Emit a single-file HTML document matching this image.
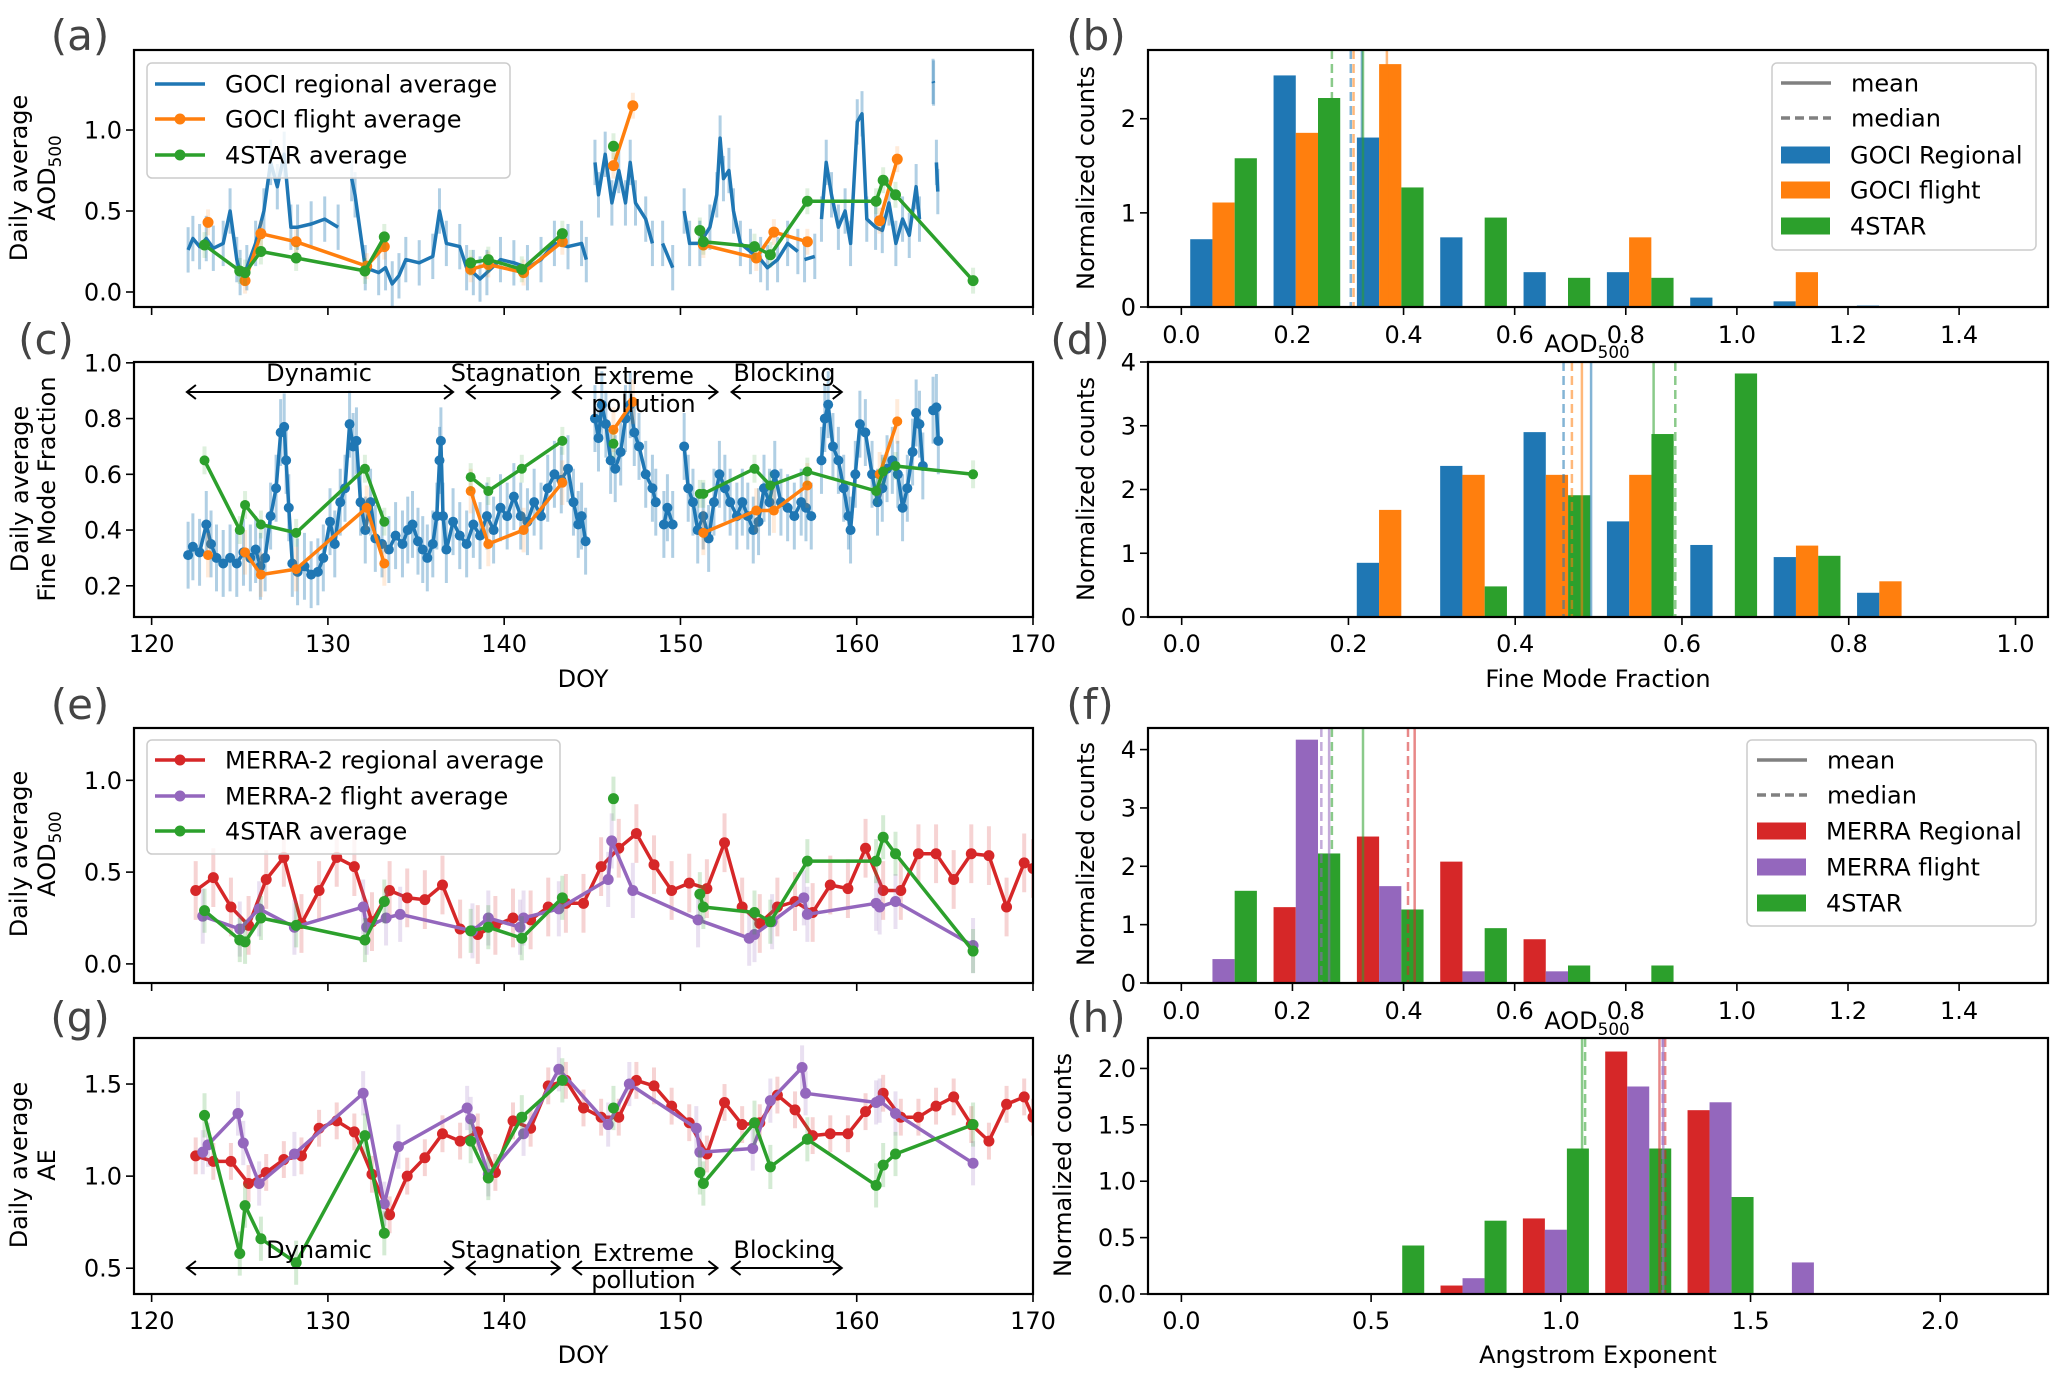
<!DOCTYPE html>
<html><head><meta charset="utf-8"><style>
html,body{margin:0;padding:0;background:#fff;}
svg{display:block;font-family:"DejaVu Sans","Liberation Sans",sans-serif;}
</style></head><body>
<svg id="fig" width="2067" height="1386" viewBox="0 0 2067 1386" xmlns="http://www.w3.org/2000/svg"></svg>
<script>
// ---------- DATA ----------
const regAodDoy = [122.07,122.34,122.72,123.1,123.5,124.06,124.45,124.83,125.02,125.4,125.9,126.37,126.75,127.13,127.52,127.9,128.28,129.05,129.82,130.58,130.9,131.35,131.54,132.12,132.88,133.27,133.65,134.03,134.42,135.18,135.95,136.33,136.72,137.48,137.87,138.25,138.63,139.02,139.79,140.55,141.32,142.09,142.85,143.62,144.39,144.66,144.9,145.15,145.35,145.73,146.11,146.5,146.88,147.15,147.45,148.03,148.41,148.7,148.99,149.56,149.9,150.21,150.52,151.1,151.67,152.06,152.25,152.44,152.75,153.01,153.4,153.97,154.55,154.93,155.51,156.08,156.66,156.85,157.04,157.62,157.8,158.0,158.27,158.57,158.96,159.34,159.65,160.03,160.3,160.57,161.07,161.45,161.83,162.22,162.6,162.98,163.37,163.56,163.9,164.33,164.36,164.43,164.52,164.6];
const regAodVal = [0.26,0.33,0.28,0.33,0.27,0.3,0.5,0.2,0.12,0.15,0.3,0.5,0.8,0.65,0.85,0.4,0.4,0.42,0.45,0.4,null,0.7,0.6,0.15,0.12,0.15,0.05,0.1,0.2,0.18,0.22,0.5,0.3,0.28,0.15,0.12,0.08,0.12,0.2,0.18,0.15,0.2,0.3,0.28,0.3,0.2,null,0.8,0.6,0.85,0.55,0.75,0.55,0.8,0.55,0.45,0.3,null,0.3,0.15,null,0.5,0.3,0.3,0.4,0.6,0.95,0.7,0.75,0.5,0.3,0.25,0.2,0.15,0.2,0.3,0.25,null,0.2,0.22,null,0.45,0.8,0.6,0.4,0.5,0.3,1.05,1.1,0.45,0.4,0.38,0.55,0.3,0.45,0.35,0.65,0.45,null,1.3,1.29,null,0.8,0.62];
const regAodErr = 0.14;

const fltDoy = [123.2,123.3,125.3,126.2,128.2,132.2,133.2,135,138.1,139.1,141.1,143.3,145,146.2,147.3,149,151.3,154.3,155.3,157.2,159,161.3,162.3];
const fltAodVal = [0.43,null,0.07,0.36,0.31,0.16,0.28,null,0.14,0.17,0.12,0.31,null,0.78,1.15,null,0.29,0.21,0.37,0.31,null,0.44,0.82];
const fltFmfVal = [0.31,null,0.32,0.24,0.26,0.48,0.28,null,0.54,0.35,0.40,0.57,null,0.76,0.86,null,0.39,0.47,0.47,0.56,null,0.60,0.79];

const starDoy = [123.0,125.0,125.3,126.2,128.2,132.1,133.2,135,138.1,139.1,141.0,143.3,145,146.2,148,151.1,151.3,154.2,155.1,157.2,161.1,161.5,162.2,166.6];
const starAodVal = [0.29,0.13,0.12,0.25,0.21,0.13,0.34,null,0.18,0.2,0.14,0.36,null,0.9,null,0.38,0.31,0.28,0.23,0.56,0.56,0.69,0.6,0.07];
const starFmfVal = [0.65,0.40,0.49,0.42,0.39,0.62,0.43,null,0.59,0.54,0.62,0.72,null,0.71,null,0.53,0.53,0.62,0.56,0.61,0.54,0.61,0.63,0.60];
const starAeVal = [1.33,0.58,0.84,0.66,0.53,1.22,0.69,null,1.19,0.99,1.32,1.52,null,1.37,null,1.02,0.96,1.29,1.05,1.2,0.95,1.06,1.12,1.28];

const regFmfDoy = [122.07,122.34,122.72,123.1,123.37,123.68,124.06,124.45,124.83,125.21,125.6,125.9,126.17,126.44,126.75,127.06,127.32,127.52,127.63,127.78,127.98,128.28,128.67,129.05,129.43,129.74,130.12,130.39,130.7,130.97,131.23,131.43,131.62,131.85,132.12,132.42,132.69,133.07,133.46,133.84,134.23,134.53,134.8,135.11,135.38,135.64,135.95,136.18,136.33,136.41,136.53,136.72,137.1,137.48,137.87,138.25,138.63,139.02,139.4,139.79,140.17,140.55,140.94,141.32,141.7,142.09,142.47,142.85,143.24,143.62,143.93,144.2,144.39,144.62,144.9,145.15,145.35,145.54,145.77,146.04,146.3,146.61,146.88,147.15,147.38,147.65,148.03,148.41,148.6,148.8,149.06,149.26,149.56,149.9,150.21,150.44,150.71,150.98,151.29,151.6,151.9,152.21,152.52,152.82,153.2,153.51,153.82,154.13,154.43,154.74,155.05,155.35,155.7,156.08,156.46,156.85,157.12,157.42,157.7,158.0,158.19,158.38,158.65,158.96,159.26,159.53,159.65,159.92,160.18,160.49,160.87,161.18,161.45,161.72,162.02,162.33,162.6,162.87,163.17,163.37,163.56,163.75,164.0,164.33,164.52,164.63];
const regFmfVal = [0.31,0.34,0.32,0.42,0.35,0.3,0.28,0.3,0.28,0.32,0.3,0.33,0.27,0.3,0.45,0.55,0.75,0.77,0.65,0.48,0.28,0.25,0.27,0.24,0.25,0.3,0.43,0.35,0.5,0.55,0.78,0.7,0.72,0.5,0.4,0.5,0.37,0.35,0.33,0.38,0.35,0.4,0.42,0.36,0.33,0.3,0.35,0.45,0.65,0.72,0.45,0.33,0.43,0.38,0.35,0.42,0.38,0.45,0.4,0.48,0.45,0.52,0.45,0.43,0.5,0.45,0.55,0.6,0.58,0.62,0.5,0.42,0.45,0.36,null,0.8,0.73,0.85,0.78,0.65,0.62,0.68,0.8,0.85,0.75,0.7,0.6,0.55,0.5,null,0.42,0.48,0.42,null,0.7,0.55,0.5,0.4,0.45,0.37,0.5,0.6,0.55,0.5,0.45,0.5,0.45,0.4,0.43,0.55,0.5,0.6,0.5,0.48,0.45,0.5,0.48,0.45,null,0.65,0.8,0.85,0.7,0.65,0.55,0.45,0.4,0.6,0.78,0.75,0.6,0.5,0.55,0.62,0.65,0.6,0.48,0.55,0.68,0.82,0.78,0.63,null,0.83,0.84,0.72];
const regFmfErr = 0.12;

const merraDoy = [122.5,123.5,124.5,125.5,126.5,127.5,128.5,129.5,130.5,131.5,132.5,133.5,134.5,135.5,136.5,137.5,138.5,139.5,140.5,141.5,142.5,143.5,144.5,145.5,146.5,147.5,148.5,149.5,150.5,151.5,152.5,153.5,154.5,155.5,156.5,157.5,158.5,159.5,160.5,161.5,162.5,163.5,164.5,165.5,166.5,167.5,168.5,169.5,170.0];
const merraAodVal = [0.4,0.47,0.31,0.21,0.46,0.58,0.22,0.4,0.58,0.53,0.23,0.4,0.36,0.35,0.43,0.19,0.16,0.21,0.25,0.24,0.31,0.33,0.33,0.53,0.63,0.71,0.54,0.4,0.44,0.41,0.66,0.31,0.22,0.31,0.34,0.28,0.43,0.41,0.63,0.4,0.4,0.6,0.6,0.46,0.6,0.59,0.31,0.55,0.52];
const merraAeVal = [1.11,1.08,1.08,0.96,1.02,1.09,1.11,1.26,1.3,1.24,1.01,0.79,1.0,1.1,1.23,1.19,1.24,1.02,1.3,1.26,1.49,1.52,1.37,1.32,1.32,1.52,1.49,1.38,1.29,1.12,1.4,1.28,1.29,1.44,1.36,1.22,1.23,1.23,1.35,1.45,1.32,1.32,1.38,1.43,1.28,1.19,1.39,1.43,1.32];

const mfltAodDoy = [122.9,125.0,126.1,128.1,132.0,132.2,133.3,134.1,138.2,139.1,140.9,141.1,143.1,145.9,146.1,147.3,151.0,153.9,154.2,155.2,157.0,157.2,161.1,161.3,162.2,166.6];
const mfltAodVal = [0.26,0.19,0.3,0.2,0.31,0.2,0.25,0.27,0.18,0.25,0.2,0.25,0.3,0.46,0.67,0.4,0.24,0.14,0.16,0.23,0.36,0.27,0.33,0.31,0.34,0.1];
const mfltAeDoy = [122.9,123.2,124.9,125.2,126.1,128.1,132.0,133.2,134.0,137.9,138.1,139.1,141.1,143.1,145.9,147.1,150.9,151.1,154.1,155.1,156.9,157.1,161.1,161.3,162.2,166.6];
const mfltAeVal = [1.13,1.17,1.34,1.18,0.96,1.12,1.45,0.85,1.16,1.37,1.31,1.01,1.23,1.58,1.28,1.5,1.26,1.13,1.15,1.41,1.59,1.45,1.4,1.41,1.34,1.07];

// histograms
const hAodBins = [0.016,0.166,0.316,0.466,0.616,0.766,0.916,1.066,1.216];
const hAodBarW = 0.04;
const hbGociReg = [0.72,2.46,1.8,0.74,0.37,0.37,0.1,0.06,0.015];
const hbGociFlt = [1.11,1.85,2.58,0,0,0.74,0,0.37,0];
const hbStar = [1.58,2.22,1.27,0.95,0.31,0.31,0,0,0];
const hbLines = [{c:'#1f77b4',v:0.325,d:false},{c:'#1f77b4',v:0.305,d:true},{c:'#ff7f0e',v:0.37,d:false},{c:'#ff7f0e',v:0.31,d:true},{c:'#2ca02c',v:0.327,d:false},{c:'#2ca02c',v:0.271,d:true}];

const hFmfBins = [0.21,0.31,0.41,0.51,0.61,0.71,0.81];
const hFmfBarW = 0.0267;
const hdGociReg = [0.85,2.37,2.9,1.5,1.13,0.94,0.38];
const hdGociFlt = [1.68,2.23,2.23,2.23,0,1.12,0.56];
const hdStar = [0,0.48,1.91,2.87,3.82,0.96,0];
const hdLines = [{c:'#1f77b4',v:0.491,d:false},{c:'#1f77b4',v:0.458,d:true},{c:'#ff7f0e',v:0.48,d:false},{c:'#ff7f0e',v:0.468,d:true},{c:'#2ca02c',v:0.566,d:false},{c:'#2ca02c',v:0.592,d:true}];

const hfMerraReg = [0,1.3,2.51,2.08,0.75,0,0,0,0];
const hfMerraFlt = [0.41,4.17,1.66,0.2,0.2,0,0,0,0];
const hfStar = [1.58,2.22,1.26,0.94,0.3,0.3,0,0,0];
const hfLines = [{c:'#9467bd',v:0.266,d:false},{c:'#9467bd',v:0.252,d:true},{c:'#2ca02c',v:0.327,d:false},{c:'#2ca02c',v:0.271,d:true},{c:'#d62728',v:0.42,d:false},{c:'#d62728',v:0.408,d:true}];

const hAeBins = [0.466,0.683,0.9,1.117,1.334,1.551];
const hAeBarW = 0.058;
const hhMerraReg = [0,0.075,0.67,2.15,1.63,0];
const hhMerraFlt = [0,0.14,0.57,1.84,1.7,0.28];
const hhStar = [0.43,0.65,1.29,1.29,0.86,0];
const hhLines = [{c:'#2ca02c',v:1.056,d:false},{c:'#2ca02c',v:1.064,d:true},{c:'#d62728',v:1.26,d:false},{c:'#d62728',v:1.275,d:true},{c:'#9467bd',v:1.27,d:false},{c:'#9467bd',v:1.268,d:true}];

const doyTicks = [120,130,140,150,160,170];
const aodHistTicks = [0.0,0.2,0.4,0.6,0.8,1.0,1.2,1.4];
const fmfHistTicks = [0.0,0.2,0.4,0.6,0.8,1.0];
const aeHistTicks = [0.0,0.5,1.0,1.5,2.0];

// ---------- HELPERS ----------
const NS='http://www.w3.org/2000/svg';
const svg=document.getElementById('fig');
function mk(tag,attrs,parent){const e=document.createElementNS(NS,tag);for(const k in attrs)e.setAttribute(k,attrs[k]);(parent||svg).appendChild(e);return e;}
function axes(x0,x1,y0,y1,xmin,xmax,ymin,ymax){return {x0,x1,y0,y1,sx:v=>x0+(v-xmin)/(xmax-xmin)*(x1-x0),sy:v=>y1-(v-ymin)/(ymax-ymin)*(y1-y0)};}
const C={blue:'#1f77b4',orange:'#ff7f0e',green:'#2ca02c',red:'#d62728',purple:'#9467bd'};

function frame(a,name){
  const r=mk('rect',{x:a.x0,y:a.y0,width:a.x1-a.x0,height:a.y1-a.y0,fill:'none',stroke:'#000','stroke-width':2.2});
  
  
}
function xticks(a,ticks,labels,fmt,ly,name){
  const g=mk('g',{});
  
  
  ticks.forEach(t=>{const x=a.sx(t);mk('line',{x1:x,x2:x,y1:a.y1,y2:a.y1+8,stroke:'#000','stroke-width':1.6},g);
    if(labels){const tx=mk('text',{x:x,y:ly,'font-size':24,'text-anchor':'middle',fill:'#000'},g);tx.textContent=fmt(t);}});
}
function yticks(a,ticks,fmt,name){
  const g=mk('g',{});
  
  
  ticks.forEach(t=>{const y=a.sy(t);mk('line',{x1:a.x0-8,x2:a.x0,y1:y,y2:y,stroke:'#000','stroke-width':1.6},g);
    const tx=mk('text',{x:a.x0-12,y:y+8.5,'font-size':24,'text-anchor':'end',fill:'#000'},g);tx.textContent=fmt(t);});
}
function clip(a,id){const cp=mk('clipPath',{id:id});mk('rect',{x:a.x0,y:a.y0,width:a.x1-a.x0,height:a.y1-a.y0},cp);return 'url(#'+id+')';}
function series(a,xs,ys,color,opts,name,cp){
  const g=mk('g',{'clip-path':cp});
  
  
  if(opts.err){xs.forEach((x,i)=>{if(ys[i]==null)return;mk('line',{x1:a.sx(x),x2:a.sx(x),y1:a.sy(ys[i]-opts.err),y2:a.sy(ys[i]+opts.err),stroke:color,'stroke-width':opts.ew||4,opacity:opts.eo||0.3},g);});}
  let seg=[];const segs=[];
  xs.forEach((x,i)=>{if(ys[i]==null){if(seg.length)segs.push(seg);seg=[];}else seg.push(a.sx(x).toFixed(1)+','+a.sy(ys[i]).toFixed(1));});
  if(seg.length)segs.push(seg);
  segs.forEach(s=>mk('polyline',{points:s.join(' '),fill:'none',stroke:color,'stroke-width':opts.lw||3.5,'stroke-linejoin':'round'},g));
  if(opts.mr){xs.forEach((x,i)=>{if(ys[i]==null)return;mk('circle',{cx:a.sx(x),cy:a.sy(ys[i]),r:opts.mr,fill:color},g);});}
}
function bars(a,bins,off,w,vals,color,name,cp){
  const g=mk('g',{'clip-path':cp});
  
  
  bins.forEach((b,i)=>{if(!vals[i])return;const x0=a.sx(b+off),x1=a.sx(b+off+w);const y=a.sy(vals[i]);
    mk('rect',{x:x0,y:y,width:x1-x0,height:a.y1-y,fill:color},g);});
}
function vlines(a,lines,name){
  const g=mk('g',{});
  
  
  lines.forEach(l=>{const x=a.sx(l.v);const at={x1:x,x2:x,y1:a.y0,y2:a.y1,stroke:l.c,'stroke-width':2.5,opacity:0.55};if(l.d)at['stroke-dasharray']='9,5';mk('line',at,g);});
}
function text(x,y,str,size,anchor,name,extra){
  const t=mk('text',Object.assign({x:x,y:y,'font-size':size,'text-anchor':anchor||'start',fill:'#000'},extra||{}));
  t.textContent=str;
  
  
  return t;
}
function aodLabel(x,y,size,anchor,name,rot){
  const t=mk('text',{x:x,y:y,'font-size':size,'text-anchor':anchor,fill:'#000'});
  if(rot)t.setAttribute('transform','rotate(-90 '+x+' '+y+')');
  
  
  const a=mk('tspan',{},t);a.textContent='AOD';
  const b=mk('tspan',{'font-size':size*0.7,dy:6},t);b.textContent='500';
  return t;
}
function ylab2(x1,x2,cy,l1,l2,name){
  const t1=mk('text',{x:x1,y:cy,'font-size':24,'text-anchor':'middle',fill:'#000',transform:'rotate(-90 '+x1+' '+cy+')'});
  t1.textContent=l1;
  
  
  if(l2==='AOD')aodLabel(x2,cy,24,'middle',name+'-line2',true);
  else{const t2=mk('text',{x:x2,y:cy,'font-size':24,'text-anchor':'middle',fill:'#000',transform:'rotate(-90 '+x2+' '+cy+')'});t2.textContent=l2;
    
    }
}
function legendBox(x0,y0,x1,y1,name){
  const r=mk('rect',{x:x0,y:y0,width:x1-x0,height:y1-y0,rx:5,fill:'#fff','fill-opacity':0.8,stroke:'#ccc','stroke-width':1.5});
  
  
}
function legLine(x,y,color,marker,label,name,dash){
  const g=mk('g',{});
  
  
  const at={x1:x,x2:x+50,y1:y,y2:y,stroke:color,'stroke-width':3.5};if(dash)at['stroke-dasharray']='9,5';
  mk('line',at,g);
  if(marker)mk('circle',{cx:x+25,cy:y,r:5.5,fill:color},g);
  const t=mk('text',{x:x+70,y:y+8.5,'font-size':24,fill:'#000'},g);t.textContent=label;
}
function legPatch(x,y,color,label,name){
  const g=mk('g',{});
  
  
  mk('rect',{x:x,y:y-8.5,width:49,height:17,fill:color},g);
  const t=mk('text',{x:x+69,y:y+8.5,'font-size':24,fill:'#000'},g);t.textContent=label;
}
function arrow(a,d1,d2,y,name){
  const g=mk('g',{});
  
  
  const x1=a.sx(d1),x2=a.sx(d2);
  mk('line',{x1:x1,x2:x2,y1:y,y2:y,stroke:'#000','stroke-width':2},g);
  mk('polyline',{points:(x1+9)+','+(y-7)+' '+x1+','+y+' '+(x1+9)+','+(y+7),fill:'none',stroke:'#000','stroke-width':2},g);
  mk('polyline',{points:(x2-9)+','+(y-7)+' '+x2+','+y+' '+(x2-9)+','+(y+7),fill:'none',stroke:'#000','stroke-width':2},g);
}
function periods(a,ty,ay,py,prefix){
  text(a.sx(129.5),ty,'Dynamic',24,'middle',prefix+'-dynamic-label');
  arrow(a,122,137.1,ay,prefix+'-dynamic-arrow');
  text(a.sx(140.67),ty,'Stagnation',24,'middle',prefix+'-stagnation-label');
  arrow(a,137.87,143.16,ay,prefix+'-stagnation-arrow');
  text(a.sx(147.9),ty+3,'Extreme',24,'middle',prefix+'-extreme-label');
  text(a.sx(147.9),py,'pollution',24,'middle',prefix+'-pollution-label');
  arrow(a,143.9,152.1,ay,prefix+'-extreme-arrow');
  text(a.sx(155.9),ty,'Blocking',24,'middle',prefix+'-blocking-label');
  arrow(a,152.9,159.15,ay,prefix+'-blocking-arrow');
}
const f1=v=>v.toFixed(1);

// ---------- PANEL (a) ----------
const A=axes(134,1033,50,307,119,170,-0.0926,1.494);
const cpA=clip(A,'cpA');
series(A,regAodDoy,regAodVal,C.blue,{err:regAodErr,eo:0.35,ew:3,lw:3.5},'goci-regional-aod-line',cpA);
series(A,fltDoy,fltAodVal,C.orange,{err:0.08,eo:0.15,mr:5.5},'goci-flight-aod-line',cpA);
series(A,starDoy,starAodVal,C.green,{err:0.08,eo:0.15,mr:5.5},'star-aod-line-a',cpA);
frame(A,'panel-a');
xticks(A,doyTicks,false,null,0,'panel-a');
yticks(A,[0,0.5,1.0],f1,'panel-a');
ylab2(27,55,178,'Daily average','AOD','panel-a-y-title');
text(80,50,'(a)',42,'middle','panel-a-label',{fill:'#444'});
legendBox(147,63,510,178,'panel-a-legend');
legLine(155,84,C.blue,false,'GOCI regional average','legend-goci-regional');
legLine(155,119,C.orange,true,'GOCI flight average','legend-goci-flight');
legLine(155,155,C.green,true,'4STAR average','legend-4star');

// ---------- PANEL (c) ----------
const Cc=axes(134,1033,362,617,119,170,0.088,1.003);
const cpC=clip(Cc,'cpC');
series(Cc,regFmfDoy,regFmfVal,C.blue,{err:regFmfErr,eo:0.35,ew:3,lw:3.5,mr:5},'goci-regional-fmf-line',cpC);
series(Cc,fltDoy,fltFmfVal,C.orange,{err:0.08,eo:0.15,mr:5},'goci-flight-fmf-line',cpC);
series(Cc,starDoy,starFmfVal,C.green,{err:0.05,eo:0.15,mr:5},'star-fmf-line',cpC);
frame(Cc,'panel-c');
xticks(Cc,doyTicks,true,v=>String(v),652,'panel-c');
yticks(Cc,[0.2,0.4,0.6,0.8,1.0],f1,'panel-c');
ylab2(28,55,489,'Daily average','Fine Mode Fraction','panel-c-y-title');
text(583,687,'DOY',24,'middle','panel-c-x-title');
text(46,354,'(c)',42,'middle','panel-c-label',{fill:'#444'});
periods(Cc,381,392,412,'panel-c');

// ---------- PANEL (e) ----------
const E=axes(134,1033,728,983,119,170,-0.104,1.285);
const cpE=clip(E,'cpE');
series(E,merraDoy,merraAodVal,C.red,{err:0.16,eo:0.2,mr:5.5},'merra-regional-aod-line',cpE);
series(E,mfltAodDoy,mfltAodVal,C.purple,{err:0.15,eo:0.2,mr:5.5},'merra-flight-aod-line',cpE);
series(E,starDoy,starAodVal,C.green,{err:0.12,eo:0.2,mr:5.5},'star-aod-line-e',cpE);
frame(E,'panel-e');
xticks(E,doyTicks,false,null,0,'panel-e');
yticks(E,[0,0.5,1.0],f1,'panel-e');
ylab2(27,55,854,'Daily average','AOD','panel-e-y-title');
text(80,719,'(e)',42,'middle','panel-e-label',{fill:'#444'});
legendBox(147,740,560,854,'panel-e-legend');
legLine(155,760,C.red,true,'MERRA-2 regional average','legend-merra-regional');
legLine(155,796,C.purple,true,'MERRA-2 flight average','legend-merra-flight');
legLine(155,831,C.green,true,'4STAR average','legend-4star-e');

// ---------- PANEL (g) ----------
const G=axes(134,1033,1038,1294,119,170,0.36,1.75);
const cpG=clip(G,'cpG');
series(G,merraDoy,merraAeVal,C.red,{err:0.1,eo:0.2,mr:5.5},'merra-regional-ae-line',cpG);
series(G,mfltAeDoy,mfltAeVal,C.purple,{err:0.12,eo:0.2,mr:5.5},'merra-flight-ae-line',cpG);
series(G,starDoy,starAeVal,C.green,{err:0.12,eo:0.2,mr:5.5},'star-ae-line',cpG);
frame(G,'panel-g');
xticks(G,doyTicks,true,v=>String(v),1329,'panel-g');
yticks(G,[0.5,1.0,1.5],f1,'panel-g');
ylab2(27,55,1165,'Daily average','AE','panel-g-y-title');
text(583,1363,'DOY',24,'middle','panel-g-x-title');
text(80,1032,'(g)',42,'middle','panel-g-label',{fill:'#444'});
periods(G,1258,1268,1288,'panel-g');

// ---------- PANEL (b) ----------
const B=axes(1148,2048,50,307,-0.06,1.56,0,2.73);
const cpB=clip(B,'cpB');
bars(B,hAodBins,0,hAodBarW,hbGociReg,C.blue,'hist-b-goci-regional',cpB);
bars(B,hAodBins,hAodBarW,hAodBarW,hbGociFlt,C.orange,'hist-b-goci-flight',cpB);
bars(B,hAodBins,2*hAodBarW,hAodBarW,hbStar,C.green,'hist-b-4star',cpB);
vlines(B,hbLines,'panel-b-mean-median-lines');
frame(B,'panel-b');
xticks(B,aodHistTicks,true,f1,343,'panel-b');
yticks(B,[0,1,2],v=>String(v),'panel-b');
const tb=mk('text',{x:1094,y:178,'font-size':24,'text-anchor':'middle',fill:'#000',transform:'rotate(-90 1094 178)'});tb.textContent='Normalized counts';


aodLabel(1587,352,24,'middle','panel-b-x-title',false);
text(1096,50,'(b)',42,'middle','panel-b-label',{fill:'#444'});
legendBox(1772,63,2036,250,'panel-b-legend');
legLine(1781,83,'#808080',false,'mean','legend-mean-b');
legLine(1781,118,'#808080',false,'median','legend-median-b',true);
legPatch(1781,155,C.blue,'GOCI Regional','legend-goci-regional-b');
legPatch(1781,190,C.orange,'GOCI flight','legend-goci-flight-b');
legPatch(1781,226,C.green,'4STAR','legend-4star-b');

// ---------- PANEL (d) ----------
const D=axes(1148,2048,362,617,-0.0404,1.039,0,4.0);
const cpD=clip(D,'cpD');
bars(D,hFmfBins,0,hFmfBarW,hdGociReg,C.blue,'hist-d-goci-regional',cpD);
bars(D,hFmfBins,hFmfBarW,hFmfBarW,hdGociFlt,C.orange,'hist-d-goci-flight',cpD);
bars(D,hFmfBins,2*hFmfBarW,hFmfBarW,hdStar,C.green,'hist-d-4star',cpD);
vlines(D,hdLines,'panel-d-mean-median-lines');
frame(D,'panel-d');
xticks(D,fmfHistTicks,true,f1,652,'panel-d');
yticks(D,[0,1,2,3,4],v=>String(v),'panel-d');
const td=mk('text',{x:1094,y:489,'font-size':24,'text-anchor':'middle',fill:'#000',transform:'rotate(-90 1094 489)'});td.textContent='Normalized counts';


text(1598,687,'Fine Mode Fraction',24,'middle','panel-d-x-title');
text(1080,354,'(d)',42,'middle','panel-d-label',{fill:'#444'});

// ---------- PANEL (f) ----------
const F=axes(1148,2048,728,983,-0.06,1.56,0,4.37);
const cpF=clip(F,'cpF');
bars(F,hAodBins,0,hAodBarW,hfMerraReg,C.red,'hist-f-merra-regional',cpF);
bars(F,hAodBins,hAodBarW,hAodBarW,hfMerraFlt,C.purple,'hist-f-merra-flight',cpF);
bars(F,hAodBins,2*hAodBarW,hAodBarW,hfStar,C.green,'hist-f-4star',cpF);
vlines(F,hfLines,'panel-f-mean-median-lines');
frame(F,'panel-f');
xticks(F,aodHistTicks,true,f1,1019,'panel-f');
yticks(F,[0,1,2,3,4],v=>String(v),'panel-f');
const tf=mk('text',{x:1094,y:854,'font-size':24,'text-anchor':'middle',fill:'#000',transform:'rotate(-90 1094 854)'});tf.textContent='Normalized counts';


aodLabel(1587,1029,24,'middle','panel-f-x-title',false);
text(1090,719,'(f)',42,'middle','panel-f-label',{fill:'#444'});
legendBox(1747,740,2036,926,'panel-f-legend');
legLine(1757,760,'#808080',false,'mean','legend-mean-f');
legLine(1757,795,'#808080',false,'median','legend-median-f',true);
legPatch(1757,831,C.red,'MERRA Regional','legend-merra-regional-f');
legPatch(1757,867,C.purple,'MERRA flight','legend-merra-flight-f');
legPatch(1757,903,C.green,'4STAR','legend-4star-f');

// ---------- PANEL (h) ----------
const H=axes(1148,2048,1038,1294,-0.088,2.284,0,2.27);
const cpH=clip(H,'cpH');
bars(H,hAeBins,0,hAeBarW,hhMerraReg,C.red,'hist-h-merra-regional',cpH);
bars(H,hAeBins,hAeBarW,hAeBarW,hhMerraFlt,C.purple,'hist-h-merra-flight',cpH);
bars(H,hAeBins,2*hAeBarW,hAeBarW,hhStar,C.green,'hist-h-4star',cpH);
vlines(H,hhLines,'panel-h-mean-median-lines');
frame(H,'panel-h');
xticks(H,aeHistTicks,true,f1,1329,'panel-h');
yticks(H,[0,0.5,1.0,1.5,2.0],f1,'panel-h');
const th=mk('text',{x:1071,y:1165,'font-size':24,'text-anchor':'middle',fill:'#000',transform:'rotate(-90 1071 1165)'});th.textContent='Normalized counts';


text(1598,1363,'Angstrom Exponent',24,'middle','panel-h-x-title');
text(1096,1032,'(h)',42,'middle','panel-h-label',{fill:'#444'});
</script>
</body></html>
